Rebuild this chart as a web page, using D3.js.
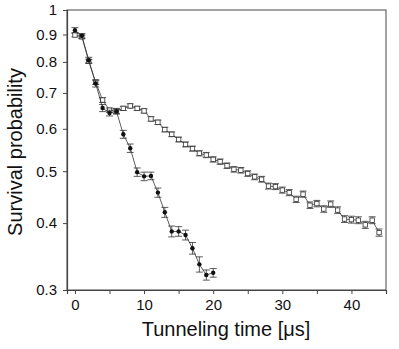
<!DOCTYPE html>
<html>
<head>
<meta charset="utf-8">
<script src="https://cdn.jsdelivr.net/npm/d3@7"></script>
<style>
  body { margin: 0; background: #fff; }
  svg text { font-family: "Liberation Sans", Arial, Helvetica, sans-serif; fill: #111; }
</style>
</head>
<body>
<svg id="chart" width="399" height="349"></svg>
<script>
// filled series (fast decay), t = 0..20 us
var fastTimes = d3.range(0, 21);
var fastValues = [0.917, 0.895, 0.806, 0.729, 0.656, 0.642, 0.647, 0.586, 0.552, 0.498, 0.489,
                  0.490, 0.456, 0.419, 0.386, 0.386, 0.380, 0.359, 0.335, 0.320, 0.323];
var fastErrors = [0.010, 0.009, 0.010, 0.011, 0.010, 0.008, 0.008, 0.010, 0.010, 0.009, 0.009,
                  0.008, 0.009, 0.009, 0.009, 0.008, 0.008, 0.009, 0.011, 0.007, 0.006];

// open series (slow decay), t = 0..44 us
var slowTimes = d3.range(0, 45);
var slowValues = [0.898, 0.891, 0.802, 0.733, 0.679, 0.650, 0.647, 0.655, 0.662, 0.655, 0.648,
                  0.626, 0.617, 0.598, 0.586, 0.573, 0.561, 0.551, 0.540, 0.536, 0.526,
                  0.521, 0.512, 0.504, 0.502, 0.495, 0.488, 0.483, 0.469, 0.468, 0.461,
                  0.456, 0.443, 0.453, 0.432, 0.435, 0.425, 0.434, 0.423, 0.407, 0.406,
                  0.405, 0.397, 0.405, 0.384];
var slowErrors = [0.007, 0.007, 0.007, 0.007, 0.007, 0.006, 0.006, 0.006, 0.006, 0.006, 0.006,
                  0.006, 0.006, 0.006, 0.006, 0.006, 0.006, 0.006, 0.006, 0.006, 0.006,
                  0.006, 0.006, 0.006, 0.006, 0.006, 0.006, 0.006, 0.006, 0.006, 0.006,
                  0.006, 0.006, 0.006, 0.006, 0.006, 0.006, 0.006, 0.006, 0.006, 0.006,
                  0.006, 0.006, 0.006, 0.006];

var yTicks = [0.3, 0.4, 0.5, 0.6, 0.7, 0.8, 0.9, 1];
var xTicks = [0, 5, 10, 15, 20, 25, 30, 35, 40];
var xLabels = [0, 10, 20, 30, 40];

var plotLeft = 67, plotRight = 386, plotTop = 10, plotBottom = 290;

var svg = d3.select("#chart");

var x = d3.scaleLinear().domain([-1.15, 45]).range([plotLeft, plotRight]);
var y = d3.scaleLog().domain([0.3, 1]).range([plotBottom, plotTop]);

// frame
svg.append("rect")
    .attr("x", plotLeft).attr("y", plotTop)
    .attr("width", plotRight - plotLeft).attr("height", plotBottom - plotTop)
    .attr("fill", "none").attr("stroke", "#666").attr("stroke-width", 1.2);

// axes
var yAxis = d3.axisLeft(y).tickValues(yTicks).tickFormat(d3.format("")).tickSize(4).tickPadding(6);
var gy = svg.append("g").attr("transform", "translate(" + plotLeft + ",0)").call(yAxis);
gy.select(".domain").attr("stroke", "#444").attr("stroke-width", 1.2);
gy.selectAll(".tick line").attr("stroke", "#444");
gy.selectAll(".tick text").attr("font-size", 15);

var xAxis = d3.axisBottom(x).tickValues(xTicks)
    .tickFormat(function(d){ return xLabels.indexOf(d) >= 0 ? d : ""; })
    .tickSize(4).tickPadding(5);
var gx = svg.append("g").attr("transform", "translate(0," + plotBottom + ")").call(xAxis);
gx.select(".domain").attr("stroke", "#444").attr("stroke-width", 1.2);
gx.selectAll(".tick line").attr("stroke", "#444");
gx.selectAll(".tick text").attr("font-size", 15);

// axis titles
svg.append("text")
    .attr("x", 226).attr("y", 336)
    .attr("text-anchor", "middle").attr("font-size", 20)
    .text("Tunneling time [μs]");
svg.append("text")
    .attr("transform", "translate(22,152) rotate(-90)")
    .attr("text-anchor", "middle").attr("font-size", 20)
    .text("Survival probability");

function drawSeries(times, values, errors, filled) {
    var pts = times.map(function(t, i){ return {t: t, v: values[i], e: errors[i]}; });
    var line = d3.line().x(function(d){ return x(d.t); }).y(function(d){ return y(d.v); });
    svg.append("path").datum(pts)
        .attr("d", line).attr("fill", "none")
        .attr("stroke", "#333").attr("stroke-width", 0.8);

    var cap = 3.5;
    var g = svg.append("g").attr("stroke", "#333").attr("stroke-width", 0.8);
    pts.forEach(function(d){
        var cx = x(d.t), y1 = y(d.v - d.e), y2 = y(d.v + d.e);
        g.append("line").attr("x1", cx).attr("x2", cx).attr("y1", y1).attr("y2", y2);
        g.append("line").attr("x1", cx - cap).attr("x2", cx + cap).attr("y1", y1).attr("y2", y1);
        g.append("line").attr("x1", cx - cap).attr("x2", cx + cap).attr("y1", y2).attr("y2", y2);
    });

    if (filled) {
        svg.append("g").selectAll("circle").data(pts).enter().append("circle")
            .attr("cx", function(d){ return x(d.t); })
            .attr("cy", function(d){ return y(d.v); })
            .attr("r", 2.2).attr("fill", "#111");
    } else {
        svg.append("g").selectAll("rect").data(pts).enter().append("rect")
            .attr("x", function(d){ return x(d.t) - 2.2; })
            .attr("y", function(d){ return y(d.v) - 2.2; })
            .attr("width", 4.4).attr("height", 4.4)
            .attr("fill", "#fff").attr("stroke", "#333").attr("stroke-width", 0.8);
    }
}

drawSeries(slowTimes, slowValues, slowErrors, false);
drawSeries(fastTimes, fastValues, fastErrors, true);
</script>
</body>
</html>
